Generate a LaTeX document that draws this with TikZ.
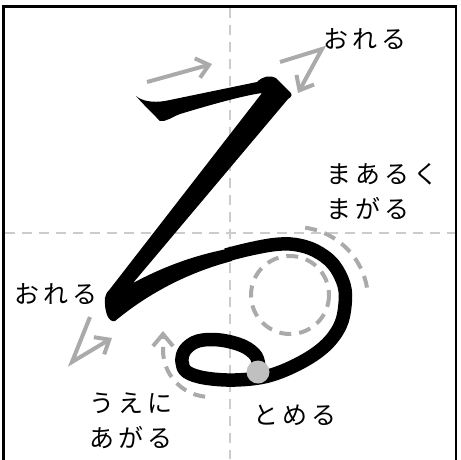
\documentclass[tikz,border=0pt]{standalone}
\usepackage{fontspec}
\usepackage{xcolor}
\newfontfamily\jpfont[LetterSpace=17]{Noto Sans CJK JP}
\usetikzlibrary{arrows.meta}
\definecolor{guidegray}{HTML}{CCCCCC}
\definecolor{hintgray}{HTML}{AAAAAA}
\definecolor{dotgray}{HTML}{C0C0C0}

\begin{document}
\begin{tikzpicture}[x=1pt, y=-1pt,
        guide/.style={draw=guidegray, line width=2pt, dash pattern=on 10pt off 7pt},
        hint/.style={draw=hintgray, line width=4pt},
        hintarrow/.style={hint, -{Straight Barb[length=12pt, width=20pt]}},
        hintdash/.style={hint, dash pattern=on 12pt off 8pt},
        label/.style={anchor=west, inner sep=0pt, align=left, font=\jpfont\fontsize{25}{35}\selectfont}]
        	\useasboundingbox (0,0) rectangle (461,459);
        	% Frame and guide lines:
        	\draw[line width=2.5pt] (3.5,470) -- (3.5,6.5) -- (456,6.5) -- (456,470);
        	\draw[guide] (230,8) -- (230,459);
        	\draw[guide] (5,233) -- (455,233);
        	% The letter:
        	\fill[black] (136,96) .. controls (142,101) and (152,103) .. (165,101)
        	-- (257,82) .. controls (263,76) and (270,75) .. (276,78)
        	-- (289,91) .. controls (293,94) and (292,97) .. (288,99)
        	-- (133,283) .. controls (165,266) and (195,255) .. (232,248)
        	-- (232,261) .. controls (190,272) and (150,292) .. (115,321)
        	.. controls (108,323) and (104,310) .. (105,298)
        	.. controls (106,293) and (108,291) .. (110,289)
        	-- (262,93) .. controls (240,96) and (200,108) .. (180,114)
        	.. controls (172,117) and (166,122) .. (160,121)
        	.. controls (152,113) and (142,103) .. (136,96) -- cycle;
        	\draw[line width=13.5pt, line join=round] plot[smooth, tension=0.6] coordinates {(226,255) (250,249) (275,244.5) (295,244.5) (315,250.5) (333,264) (344,285) (345,305) (340,326) (325,346) (300,363) (268,376) (235,380) (205,378) (187,372) (182,362) (185,350) (198,341) (220,340) (243,346) (256,356) (259,368)};
        	\fill[dotgray] (258,372) circle (11.5);
        	% Hints:
        	\draw[hintarrow] (147,82) -- (212,64);
        	\draw[hintarrow] (280,62) -- (322,49) -- (298,93);
        	\draw[hintarrow] (90,317) -- (72,362) -- (112,338);
        	\draw[hintdash] (290,295) circle (39);
        	\draw[hintdash] (305.2,227.7) arc[start angle=-82, end angle=-5, radius=73];
        	\draw[hintdash, -{Straight Barb[length=12pt, width=20pt]}] (205.1,396.7) arc[start angle=96, end angle=180, radius=47] -- (163,331);
        	% Labels:
        	\node[label] (N1) at (323,39) {おれる};
        	\node[label] (N2) at (326,191.5) {まあるく\\まがる};
        	\node[label] (N3) at (14,294) {おれる};
        	\node[label] (N4) at (89,420.5) {うえに\\あがる};
        	\node[label] (N5) at (253,415) {とめる};
        \end{tikzpicture}
\end{document}
